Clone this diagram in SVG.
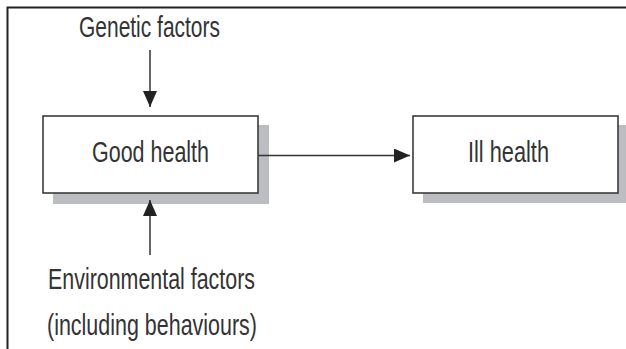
<svg xmlns="http://www.w3.org/2000/svg" width="626" height="349" viewBox="0 0 626 349">
<defs>
<style>
.t{font-family:"Liberation Sans",Arial,sans-serif;font-size:29px;fill:#333;}
.box{fill:#fff;stroke:#3a3a3a;stroke-width:1.6;}
.sh{fill:#bcbdc1;}
.ln{stroke:#333;stroke-width:1.5;fill:none;}
</style>
<marker id="ah" markerWidth="16" markerHeight="14" refX="16" refY="7" orient="auto" markerUnits="userSpaceOnUse">
<path d="M0,0 L16,7 L0,14 Z" fill="#222"/>
</marker>
</defs>
<rect width="626" height="349" fill="#fff"/>
<g id="frame">
<path d="M7.5,349 L7.5,7.5 L626,7.5" fill="none" stroke="#222" stroke-width="2"/>
</g>
<g id="genetic">
<text class="t" x="79" y="37" textLength="141" lengthAdjust="spacingAndGlyphs">Genetic factors</text>
</g>
<g id="good">
<rect class="sh" x="53" y="125" width="216" height="79"/>
<rect class="box" x="43" y="116" width="215" height="77"/>
<text class="t" x="92" y="162" textLength="117" lengthAdjust="spacingAndGlyphs">Good health</text>
</g>
<g id="ill">
<rect class="sh" x="423" y="125" width="203" height="78"/>
<rect class="box" x="413" y="116" width="205" height="77"/>
<text class="t" x="468" y="162" textLength="81" lengthAdjust="spacingAndGlyphs">Ill health</text>
</g>
<g id="env">
<text class="t" x="48" y="289" textLength="207" lengthAdjust="spacingAndGlyphs">Environmental factors</text>
<text class="t" x="47" y="335" textLength="210" lengthAdjust="spacingAndGlyphs">(including behaviours)</text>
</g>
<g id="connectors">
<line class="ln" x1="150" y1="50" x2="150" y2="107" marker-end="url(#ah)"/>
<line class="ln" x1="150" y1="255" x2="150" y2="200" marker-end="url(#ah)"/>
<line class="ln" x1="258" y1="155.5" x2="410" y2="155.5" marker-end="url(#ah)"/>
</g>
</svg>
